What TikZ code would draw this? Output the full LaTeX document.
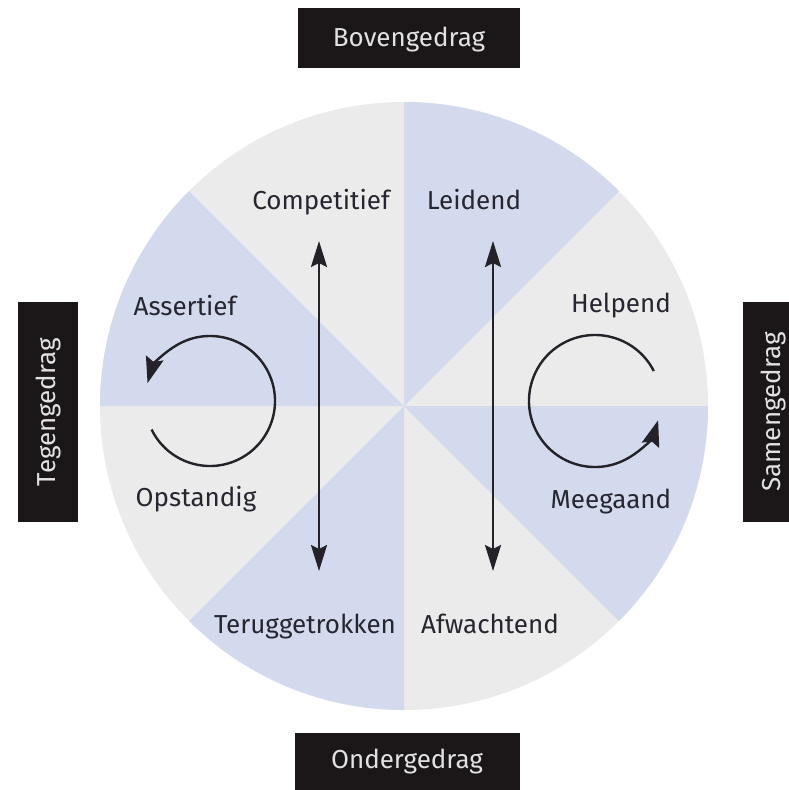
\documentclass[tikz,border=0pt]{standalone}
\usepackage{fontspec}
\setmainfont{Fira Sans}
\usetikzlibrary{arrows.meta}
\definecolor{secblue}{HTML}{D3DAEE}
\definecolor{secgray}{HTML}{EBEBEB}
\definecolor{boxblack}{HTML}{1B1719}
\definecolor{boxtext}{HTML}{E2E2E2}
\definecolor{labtext}{HTML}{262630}
\definecolor{arrowcol}{HTML}{222228}
\tikzset{
  lab/.style={anchor=base, text=labtext, font=\fontsize{26}{30}\selectfont, inner sep=0pt},
  blackbox/.style={fill=boxblack, draw=none},
  boxlab/.style={text=boxtext, font=\fontsize{26}{30}\selectfont, inner sep=0pt},
  varrow/.style={draw=arrowcol, line width=2.4pt, {Stealth[length=26pt,width=16pt,inset=4pt]}-{Stealth[length=26pt,width=16pt,inset=4pt]}},
  carrow/.style={draw=arrowcol, line width=2.4pt, -{Stealth[length=26pt,width=18pt,inset=4pt]}},
}
\begin{document}
\begin{tikzpicture}[x=1pt,y=-1pt]
\useasboundingbox (0,0) rectangle (789,790);
\clip (0,0) rectangle (789,790);
\fill[white] (0,0) rectangle (789,790);
\coordinate (O) at (404,406);
% wheel
\fill[secgray] (O) circle (304);
\foreach \a in {0,90,180,270}{
  \fill[secblue] (O) -- ++(\a:304) arc (\a:\a+45:304) -- cycle;
}
% boxes
\fill[blackbox] (298,8) rectangle (520,68);
\node[boxlab] (top) at (409,40) {Bovengedrag};
\fill[blackbox] (18,302) rectangle (78,522);
\node[boxlab, rotate=90] (left) at (49,412) {Tegengedrag};
\fill[blackbox] (743,302) rectangle (805,522);
\node[boxlab, rotate=90] (right) at (774,412) {Samengedrag};
\fill[blackbox] (295,733) rectangle (520,800);
\node[boxlab] (bottom) at (407,762) {Ondergedrag};
% labels
\node[lab] (comp) at (321,209) {Competitief};
\node[lab] (leid) at (474,209) {Leidend};
\node[lab] (asse) at (185,315) {Assertief};
\node[lab] (help) at (621,312) {Helpend};
\node[lab] (opst) at (196,506) {Opstandig};
\node[lab] (meeg) at (611,508) {Meegaand};
\node[lab] (teru) at (305,633) {Teruggetrokken};
\node[lab] (afwa) at (490,633) {Afwachtend};
% vertical arrows
\coordinate (lt) at (319,241);
\coordinate (lb) at (319,571);
\coordinate (rt) at (493,241);
\coordinate (rb) at (493,571);
\draw[varrow] (lt) -- (lb);
\draw[varrow] (rt) -- (rb);
% circular arrows (angles flipped because y points down)
\coordinate (lc) at (210,401);
\coordinate (rc) at (595,401);
\draw[carrow] ([shift={(-206:65)}]lc) arc (-206:-524:65);
\draw[carrow] ([shift={(-27:66)}]rc) arc (-27:-343:66);
\end{tikzpicture}
\end{document}
